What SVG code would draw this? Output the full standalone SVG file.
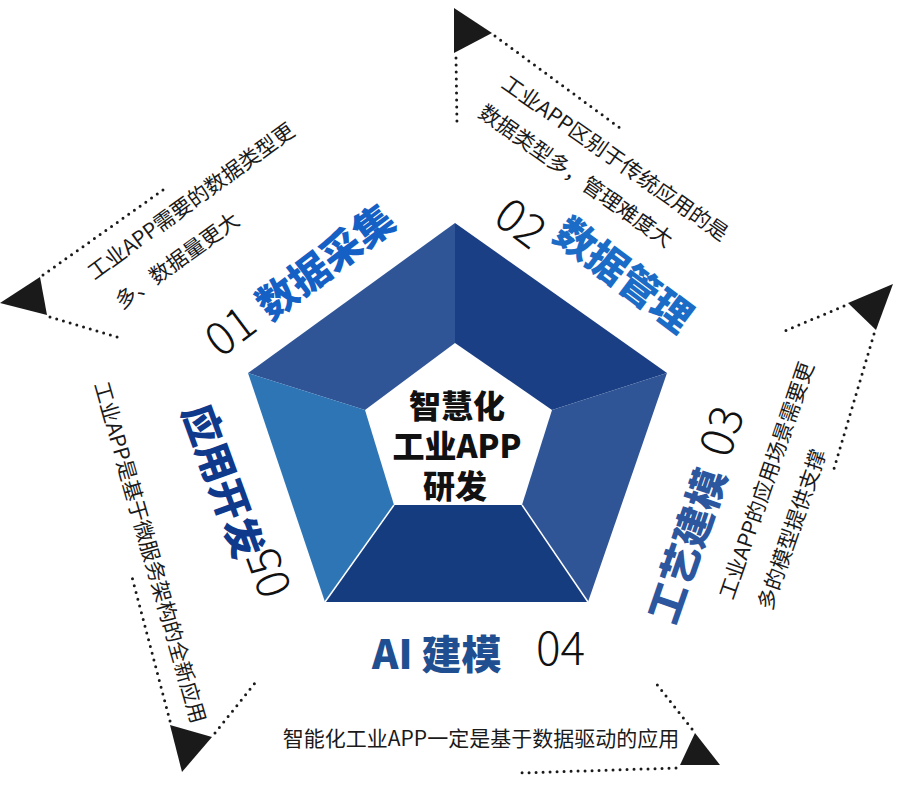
<svg xmlns="http://www.w3.org/2000/svg" width="901" height="800" viewBox="0 0 901 800">
<style>
.desc{font-family:"Noto Sans CJK SC","Noto Sans",sans-serif;font-size:21px;fill:#1a1a1a;}
.lbl{font-family:"Noto Sans CJK SC","Noto Sans",sans-serif;font-weight:900;font-size:40px;}
.num{font-family:"Noto Sans CJK SC","Noto Sans",sans-serif;font-weight:300;fill:#111;font-size:46px;}
.ctr{font-family:"Noto Sans CJK SC","Noto Sans",sans-serif;font-weight:900;font-size:32px;fill:#111;}
.c{text-anchor:middle;dominant-baseline:central;}
.dot{fill:none;stroke:#1a1a1a;stroke-width:3;stroke-linecap:round;stroke-dasharray:0 7;}
.tri{fill:#1a1a1a;}
</style>
<rect width="901" height="800" fill="#ffffff"/>

<g id="center">
  <polygon points="455,223 455,343 365,410 248,373" fill="#2f5597"/>
  <polygon points="455,223 667,373 552,410 455,343" fill="#1a3f84"/>
  <polygon points="667,373 588,602 522,505 552,410" fill="#2f5597"/>
  <polygon points="588,602 325,602 394,505 522,505" fill="#163c80"/>
  <polygon points="325,602 248,373 365,410 394,505" fill="#2e75b6"/>
  <line x1="325" y1="602" x2="394" y2="505" stroke="#fff" stroke-width="1.5"/>
  <line x1="588" y1="602" x2="522" y2="505" stroke="#fff" stroke-width="1.5"/>
  <text class="ctr" text-anchor="middle"><tspan x="457" y="418">智慧化</tspan><tspan x="457" y="458">工业APP</tspan><tspan x="455" y="498">研发</tspan></text>
</g>

<g id="item01">
  <text class="lbl c" fill="#1560c4" transform="translate(324,260) rotate(-37)">数据采集</text>
  <text class="num c" transform="translate(228,328) rotate(-37)">01</text>
  <g transform="translate(190,200) rotate(-36)">
    <text class="desc c" x="0" y="0">工业APP需要的数据类型更</text>
    <text class="desc c" x="-46" y="40">多、数据量更大</text>
  </g>
</g>

<g id="item02">
  <text class="lbl c" fill="#1a6cc6" transform="translate(625,273) rotate(37)">数据管理</text>
  <text class="num c" transform="translate(523,220) rotate(37)">02</text>
  <g transform="translate(616,157) rotate(35)">
    <text class="desc c" x="0" y="0">工业APP区别于传统应用的是</text>
    <text class="desc c" x="-22" y="37">数据类型多，管理难度大</text>
  </g>
</g>

<g id="item03">
  <text class="lbl c" fill="#2c579e" transform="translate(685,545) rotate(-71)">工艺建模</text>
  <text class="num c" transform="translate(718,430) rotate(-71)">03</text>
  <g transform="translate(765,480) rotate(-71)">
    <text class="desc c" x="0" y="0">工业APP的应用场景需要更</text>
    <text class="desc c" x="-38" y="40">多的模型提供支撑</text>
  </g>
</g>

<g id="item04">
  <text class="lbl" fill="#1f4f90" x="372" y="669">AI 建模</text>
  <text class="num" x="536" y="665">04</text>
  <text class="desc" x="481" y="746" text-anchor="middle">智能化工业APP一定是基于数据驱动的应用</text>
</g>

<g id="item05">
  <text class="lbl c" fill="#0f3a8c" transform="translate(225,480) rotate(70)">应用开发</text>
  <text class="num c" transform="translate(265,574) rotate(-110)">05</text>
  <text class="desc c" transform="translate(151.5,552) rotate(74)">工业APP是基于微服务架构的全新应用</text>
</g>

<g id="connectors">
  <path class="dot" d="M43,275 L163,190 M50,317 L120,338"/>
  <polygon class="tri" points="0,303 40,277 47,315"/>
  <path class="dot" d="M456,58 L457,125 M495,36 L620,128"/>
  <polygon class="tri" points="454,8 492,33 454,53"/>
  <path class="dot" d="M844,306 L780,333 M874,334 L833,472"/>
  <polygon class="tri" points="848,303 893,284 876,330"/>
  <path class="dot" d="M692,729 L655,682 M676,768 L518,773"/>
  <polygon class="tri" points="695,733 680,765 720,765"/>
  <path class="dot" d="M170,721 L132,577 M215,733 L255,683"/>
  <polygon class="tri" points="170,725 212,737 182,772"/>
</g>
</svg>
